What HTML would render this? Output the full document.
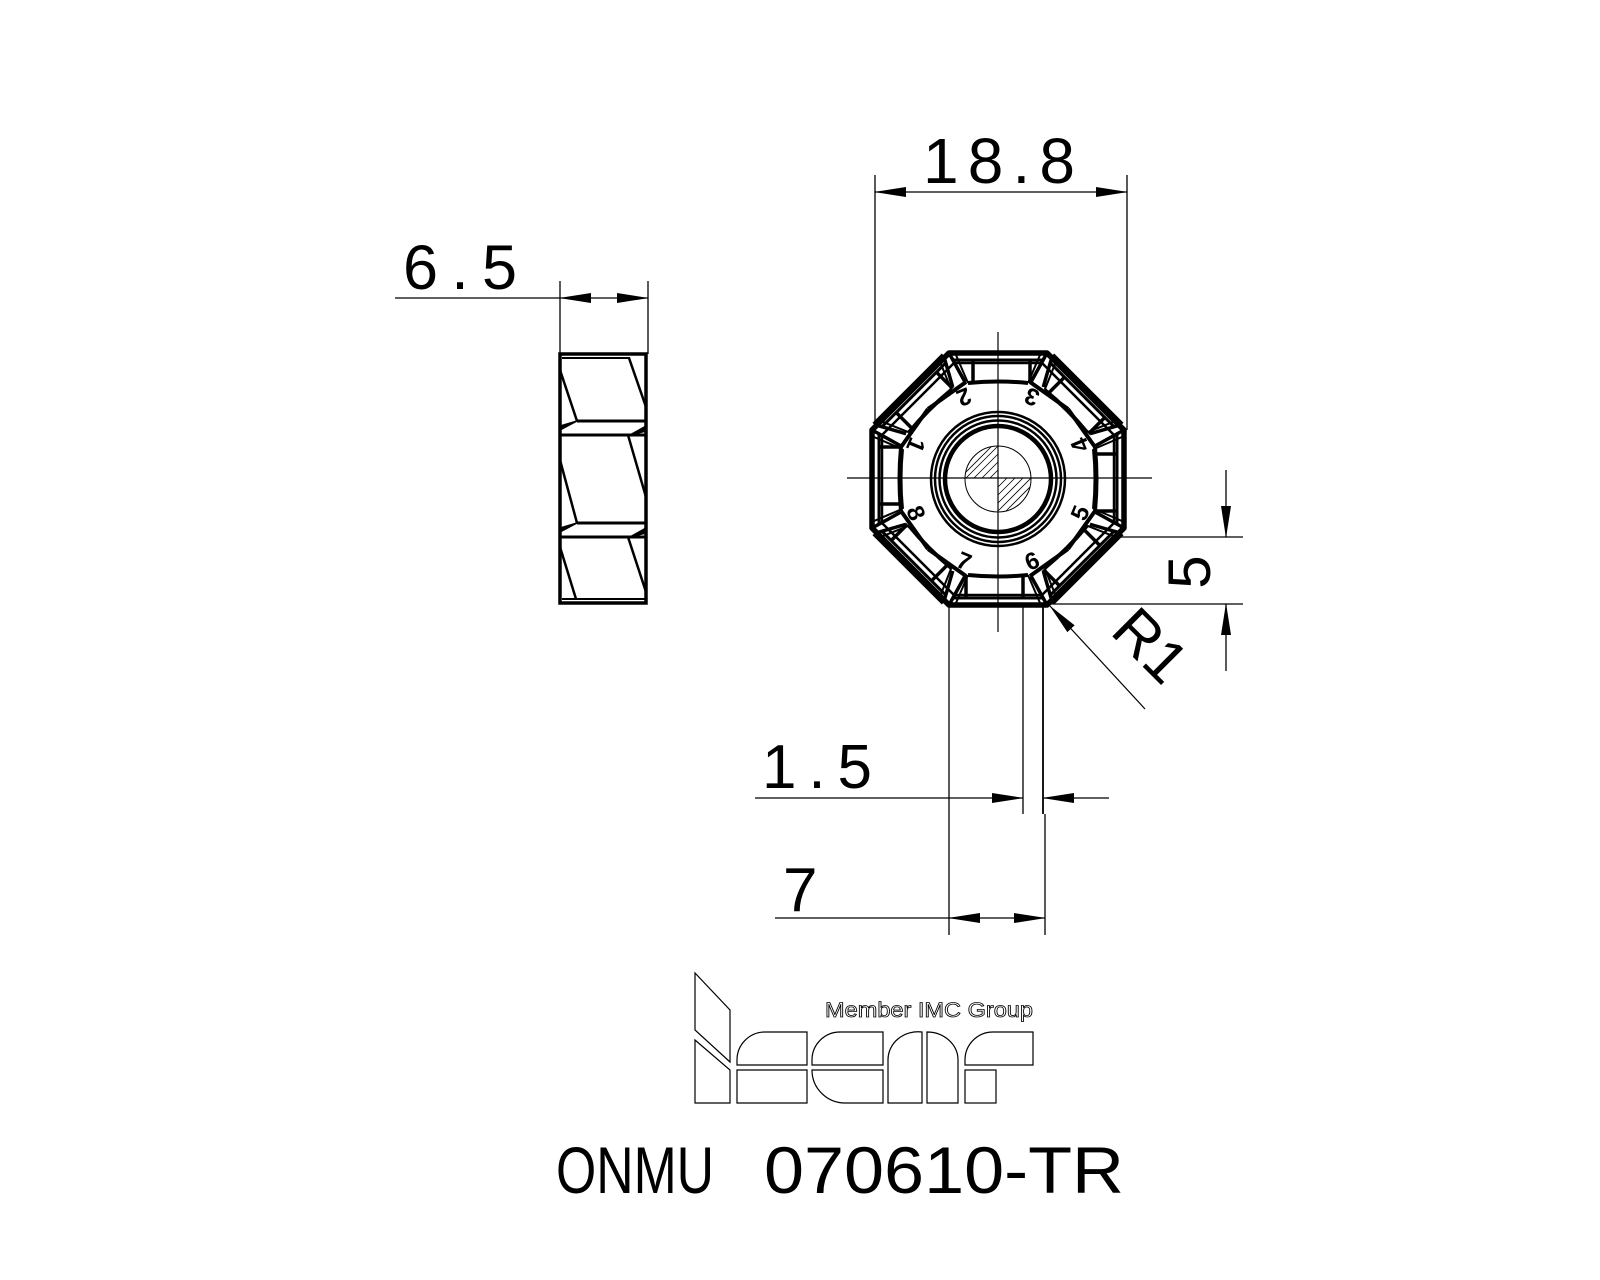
<!DOCTYPE html>
<html><head><meta charset="utf-8"><style>
html,body{margin:0;padding:0;background:#fff;}
svg{display:block;}
text{font-family:"Liberation Sans",sans-serif;fill:#000;}
</style></head><body>
<svg width="1600" height="1280" viewBox="0 0 1600 1280" xmlns="http://www.w3.org/2000/svg">
<defs>
<marker id="ah" markerWidth="32" markerHeight="12" refX="31" refY="6" orient="auto" markerUnits="userSpaceOnUse">
<path d="M0,1 L32,6 L0,11 Z" fill="#000"/>
</marker>
<clipPath id="cc"><circle cx="998" cy="479" r="33"/></clipPath>
<g id="side">
<line x1="-49" y1="-126" x2="49" y2="-126" stroke="#000" stroke-width="5"/>
<line x1="-44" y1="-119" x2="44" y2="-119" stroke="#000" stroke-width="3"/>
<path d="M-30,-96 Q0,-99 30,-96" fill="none" stroke="#000" stroke-width="4"/>
<line x1="-25" y1="-119" x2="-25" y2="-97" stroke="#000" stroke-width="3.5"/>
<line x1="32" y1="-119" x2="32" y2="-96" stroke="#000" stroke-width="3.5"/>
<line x1="-49" y1="-126" x2="-33" y2="-97" stroke="#000" stroke-width="3.5"/>
<line x1="-42" y1="-124" x2="-30" y2="-96" stroke="#000" stroke-width="2"/>
<line x1="49" y1="-126" x2="33" y2="-97" stroke="#000" stroke-width="3.5"/>
<line x1="42" y1="-124" x2="30" y2="-96" stroke="#000" stroke-width="2"/>
</g>
</defs>

<!-- 18.8 dimension -->
<line x1="875" y1="175" x2="875" y2="430" stroke="#000" stroke-width="1.3"/>
<line x1="1127" y1="175" x2="1127" y2="430" stroke="#000" stroke-width="1.3"/>
<line x1="1000" y1="192" x2="875" y2="192" stroke="#000" stroke-width="1.3" marker-end="url(#ah)"/>
<line x1="1000" y1="192" x2="1127" y2="192" stroke="#000" stroke-width="1.3" marker-end="url(#ah)"/>
<text x="923" y="183" font-size="64" textLength="152" lengthAdjust="spacing">18.8</text>

<!-- 6.5 dimension -->
<line x1="560" y1="281" x2="560" y2="354" stroke="#000" stroke-width="1.3"/>
<line x1="648" y1="281" x2="648" y2="354" stroke="#000" stroke-width="1.3"/>
<line x1="395" y1="298" x2="560" y2="298" stroke="#000" stroke-width="1.3"/>
<line x1="604" y1="298" x2="560" y2="298" stroke="#000" stroke-width="1.3" marker-end="url(#ah)"/>
<line x1="604" y1="298" x2="648" y2="298" stroke="#000" stroke-width="1.3" marker-end="url(#ah)"/>
<text x="403" y="289" font-size="63" textLength="114" lengthAdjust="spacing">6.5</text>

<!-- side view -->
<g stroke="#000" fill="none">
<rect x="560" y="354" width="86" height="249" stroke-width="3.5"/>
<line x1="562" y1="358" x2="630" y2="358" stroke-width="2"/>
<line x1="577" y1="421" x2="646" y2="421" stroke-width="3"/>
<line x1="560" y1="435" x2="646" y2="435" stroke-width="3"/>
<line x1="577" y1="523" x2="646" y2="523" stroke-width="3"/>
<line x1="560" y1="537" x2="646" y2="537" stroke-width="3"/>
<line x1="562" y1="599" x2="646" y2="599" stroke-width="2"/>
<line x1="560" y1="370" x2="577" y2="421" stroke-width="2.5"/>
<line x1="629" y1="358" x2="646" y2="407" stroke-width="2.5"/>
<line x1="560" y1="460" x2="577" y2="523" stroke-width="2.5"/>
<line x1="628" y1="435" x2="646" y2="497" stroke-width="2.5"/>
<line x1="560" y1="547" x2="576" y2="599" stroke-width="2.5"/>
<line x1="628" y1="537" x2="646" y2="592" stroke-width="2.5"/>
<path d="M560,430 L577,421 L560,426 Z" fill="#000" stroke-width="1.5"/>
<path d="M560,532 L577,523 L560,528 Z" fill="#000" stroke-width="1.5"/>
<path d="M646,426 L630,435 L646,431 Z" fill="#000" stroke-width="1.5"/>
<path d="M646,528 L630,537 L646,533 Z" fill="#000" stroke-width="1.5"/>
</g>

<!-- centre lines -->
<line x1="998" y1="332" x2="998" y2="632" stroke="#000" stroke-width="1.2"/>
<line x1="847" y1="478" x2="1152" y2="478" stroke="#000" stroke-width="1.2"/>

<!-- octagon -->
<g transform="translate(998,479)">
<use href="#side"/>
<use href="#side" transform="rotate(45)"/>
<use href="#side" transform="rotate(90)"/>
<use href="#side" transform="rotate(135)"/>
<use href="#side" transform="rotate(180)"/>
<use href="#side" transform="rotate(225)"/>
<use href="#side" transform="rotate(270)"/>
<use href="#side" transform="rotate(315)"/>
<polygon points="-49,-126 49,-126 126,-49 126,49 49,126 -49,126 -126,49 -126,-49" fill="none" stroke="#000" stroke-width="5.5" stroke-linejoin="round"/>
<polygon points="-44,-116 44,-116 116,-44 116,44 44,116 -44,116 -116,44 -116,-44" fill="none" stroke="#000" stroke-width="2.5"/>
<path d="M-32,-97 L-70,-70 M32,-97 L70,-70 M97,-32 L70,-70 M97,32 L70,70 M32,97 L70,70 M-32,97 L-70,70 M-97,32 L-70,70 M-97,-32 L-70,-70" fill="none" stroke="#000" stroke-width="4"/>
<path d="M-97,-32 Q-100,0 -97,32 M97,-32 Q100,0 97,32" fill="none" stroke="#000" stroke-width="4"/>
<circle r="67" fill="none" stroke="#000" stroke-width="2.5"/>
<circle r="63" fill="none" stroke="#000" stroke-width="2.5"/>
<circle r="58.5" fill="none" stroke="#000" stroke-width="2.5"/>
<circle r="53" fill="none" stroke="#000" stroke-width="4.5"/>
<circle r="33" fill="none" stroke="#000" stroke-width="1"/>
<g font-size="24" font-weight="bold" text-anchor="middle">
<text transform="rotate(157.5) translate(0,88)" dy="9">2</text>
<text transform="rotate(-157.5) translate(0,88)" dy="9">3</text>
<text transform="rotate(-112.5) translate(0,88)" dy="9">4</text>
<text transform="rotate(-67.5) translate(0,88)" dy="9">5</text>
<text transform="rotate(-22.5) translate(0,88)" dy="9">6</text>
<text transform="rotate(22.5) translate(0,88)" dy="9">7</text>
<text transform="rotate(67.5) translate(0,88)" dy="9">8</text>
<text transform="rotate(112.5) translate(0,88)" dy="9">1</text>
</g>
</g>
<g clip-path="url(#cc)" stroke="#000" stroke-width="0.8">
<path d="M960,470 L989,441 M960,478 L997,441 M966,478 L998,446 M974,478 L998,454 M982,478 L998,462 M990,478 L998,470 M960,462 L981,441 M960,454 L973,441 M998,487 L1007,478 M998,495 L1015,478 M998,503 L1023,478 M998,511 L1031,478 M1006,511 L1035,482 M1014,511 L1035,490 M1022,511 L1035,498"/>
</g>

<!-- 5 dimension -->
<line x1="1118" y1="537" x2="1243" y2="537" stroke="#000" stroke-width="1.3"/>
<line x1="1050" y1="604" x2="1243" y2="604" stroke="#000" stroke-width="1.3"/>
<line x1="1226" y1="470" x2="1226" y2="537" stroke="#000" stroke-width="1.3" marker-end="url(#ah)"/>
<line x1="1226" y1="671" x2="1226" y2="604" stroke="#000" stroke-width="1.3" marker-end="url(#ah)"/>
<text transform="translate(1210,572) rotate(-90)" font-size="60" text-anchor="middle">5</text>

<!-- R1 -->
<line x1="1145" y1="709" x2="1050" y2="606" stroke="#000" stroke-width="1.2" marker-end="url(#ah)"/>
<text transform="translate(1136,660) rotate(45)" font-size="60" text-anchor="middle">R1</text>

<!-- 1.5 dimension -->
<line x1="1023" y1="604" x2="1023" y2="814" stroke="#000" stroke-width="1.3"/>
<line x1="1043" y1="604" x2="1043" y2="814" stroke="#000" stroke-width="1.8"/>
<line x1="755" y1="798" x2="1023" y2="798" stroke="#000" stroke-width="1.3" marker-end="url(#ah)"/>
<line x1="1109" y1="798" x2="1043" y2="798" stroke="#000" stroke-width="1.3" marker-end="url(#ah)"/>
<text x="762" y="788" font-size="62" textLength="110" lengthAdjust="spacing">1.5</text>

<!-- 7 dimension -->
<line x1="949" y1="604" x2="949" y2="935" stroke="#000" stroke-width="1.3"/>
<line x1="1045" y1="814" x2="1045" y2="935" stroke="#000" stroke-width="1.3"/>
<line x1="775" y1="918" x2="949" y2="918" stroke="#000" stroke-width="1.3"/>
<line x1="996" y1="918" x2="949" y2="918" stroke="#000" stroke-width="1.3" marker-end="url(#ah)"/>
<line x1="996" y1="918" x2="1045" y2="918" stroke="#000" stroke-width="1.3" marker-end="url(#ah)"/>
<text x="783" y="911" font-size="62">7</text>

<!-- logo -->
<g fill="none" stroke="#000" stroke-width="1.2">
<polygon points="695,973 730,1010 730,1062 695,1030"/>
<polygon points="695,1040 730,1070 730,1103 695,1103"/>
<path d="M737,1065 L737,1060 A28,28 0 0 1 765,1032 L807,1032 L807,1065 Z"/>
<path d="M737,1070 L807,1070 L807,1103 L737,1103 Z"/>
<path d="M812,1065 L812,1060 A28,28 0 0 1 840,1032 L883,1032 L883,1065 Z"/>
<path d="M812,1070 L883,1070 L883,1103 L845,1103 A33,33 0 0 1 812,1070 Z"/>
<path d="M888,1103 L888,1060 A30,28 0 0 1 922,1032 L922,1103 Z"/>
<path d="M927,1103 L927,1032 A31,28 0 0 1 958,1060 L958,1103 Z"/>
<path d="M965,1065 L965,1060 A28,28 0 0 1 993,1032 L1033,1032 L1033,1065 Z"/>
<rect x="965" y="1070" width="31" height="33"/>
</g>
<text x="825" y="1017" font-size="21" style="fill:#fff" stroke="#000" stroke-width="0.8" textLength="208" lengthAdjust="spacingAndGlyphs">Member IMC Group</text>

<!-- title -->
<text x="556" y="1193" font-size="66" textLength="158" lengthAdjust="spacingAndGlyphs">ONMU</text>
<text x="764" y="1193" font-size="66" textLength="360" lengthAdjust="spacingAndGlyphs">070610-TR</text>
</svg>
</body></html>
